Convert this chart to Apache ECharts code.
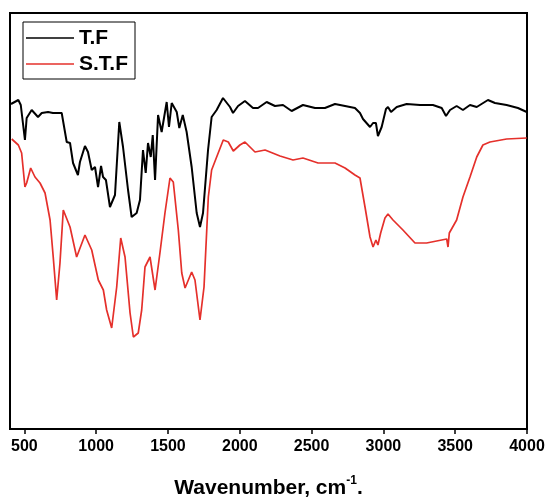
<!DOCTYPE html>
<html>
<head>
<meta charset="utf-8">
<script src="https://cdn.jsdelivr.net/npm/echarts@6/dist/echarts.min.js"></script>
<style>html,body{margin:0;padding:0;background:#fff;}#c{width:548px;height:497px;}</style>
</head>
<body>
<div id="c"></div>
<script>
// Wavenumber (cm^-1) and transmittance (arbitrary units)
const tfWavenumber = [407,458,475,504,516,551,595,621,665,699,760,795,818,839,873,887,922,943,969,992,1013,1034,1048,1068,1096,1131,1161,1187,1222,1247,1282,1305,1326,1345,1361,1380,1394,1410,1431,1456,1491,1507,1526,1561,1579,1603,1630,1665,1700,1723,1744,1779,1804,1839,1883,1932,1953,1988,2036,2092,2127,2187,2245,2301,2361,2440,2524,2593,2663,2733,2802,2837,2858,2907,2928,2948,2962,2988,3018,3032,3053,3093,3162,3255,3345,3406,3436,3464,3510,3554,3603,3650,3728,3777,3858,3937,3998];
const tfValue = [325,329,324,289,311,319,312,316,317,316,316,287,286,266,254,267,283,277,259,262,242,263,252,249,222,234,307,282,239,212,216,229,279,256,286,272,294,249,314,297,327,302,326,317,301,314,297,262,216,202,216,279,312,319,331,322,316,323,328,321,321,327,323,324,318,324,321,321,325,323,321,316,310,302,306,306,293,302,320,322,317,322,325,324,324,321,313,319,323,319,324,322,329,326,324,321,317];
const stfWavenumber = [412,458,481,504,516,544,574,609,644,679,701,725,748,771,818,864,922,969,1015,1050,1073,1108,1143,1171,1201,1236,1259,1293,1317,1340,1375,1410,1444,1479,1514,1537,1572,1596,1619,1665,1688,1723,1751,1781,1804,1839,1885,1920,1955,2001,2036,2106,2176,2280,2371,2440,2545,2663,2733,2802,2837,2872,2907,2928,2948,2962,2981,3011,3032,3067,3136,3220,3301,3371,3441,3450,3459,3510,3554,3603,3650,3693,3742,3858,3998];
const stfValue = [290,284,276,242,246,261,252,246,236,209,172,129,166,219,202,172,194,179,149,139,119,101,142,191,172,116,92,96,119,162,172,139,176,216,251,247,199,156,141,157,149,109,142,232,259,272,289,287,278,284,287,277,279,273,269,271,266,266,261,254,251,222,192,182,189,184,196,211,215,209,199,186,186,188,190,182,196,209,232,252,272,284,287,290,291];
const seriesNames = ['T.F', 'S.T.F'];
const xTickValues = [500,1000,1500,2000,2500,3000,3500,4000];

function pairs(xs, ys) { return xs.map((x, i) => [x, ys[i]]); }

const FONT = "'Liberation Sans', Arial, sans-serif";
const chart = echarts.init(document.getElementById('c'), null, {renderer: 'canvas'});
chart.setOption({
  animation: false,
  backgroundColor: '#fff',
  grid: {left: 10, right: 21, top: 13, bottom: 68, containLabel: false, outerBoundsMode: 'none',
         show: true, borderColor: '#000', borderWidth: 2, backgroundColor: 'transparent'},
  legend: {
    left: 23, top: 22, orient: 'vertical',
    data: seriesNames,
    itemWidth: 48, itemHeight: 14, itemGap: 4,
    padding: [5, 7, 4, 3],
    borderColor: '#000', borderWidth: 1,
    textStyle: {fontFamily: FONT, fontWeight: 'bold', fontSize: 21, color: '#000', lineHeight: 22},
    icon: 'path://M0,0 L48,0 L48,1.6 L0,1.6 Z'
  },
  xAxis: {
    type: 'value', min: 400, max: 4000,
    axisLine: {show: true, lineStyle: {color: '#000', width: 2}},
    axisTick: {show: true, length: 5, lineStyle: {color: '#000', width: 1.5}, customValues: xTickValues},
    axisLabel: {customValues: xTickValues, formatter: v => String(v), fontFamily: FONT, fontWeight: 'bold', fontSize: 16, color: '#000', margin: 10},
    splitLine: {show: false},
    name: '{a|Wavenumber, cm}{s|-1}{a|.}',
    nameLocation: 'middle', nameGap: 47,
    nameTextStyle: {
      rich: {
        a: {fontFamily: FONT, fontWeight: 'bold', fontSize: 21, color: '#000', lineHeight: 24},
        s: {fontFamily: FONT, fontWeight: 'bold', fontSize: 12, color: '#000', lineHeight: 24, padding: [0, 0, 14, 0]}
      }
    }
  },
  yAxis: {
    type: 'value', min: 0, max: 416,
    axisLine: {show: true, lineStyle: {color: '#000', width: 2}},
    axisTick: {show: false}, axisLabel: {show: false}, splitLine: {show: false}
  },
  series: [
    {name: seriesNames[0], type: 'line', data: pairs(tfWavenumber, tfValue), symbol: 'none',
     itemStyle: {color: '#000'}, lineStyle: {color: '#000', width: 2}},
    {name: seriesNames[1], type: 'line', data: pairs(stfWavenumber, stfValue), symbol: 'none',
     itemStyle: {color: '#e5302b'}, lineStyle: {color: '#e5302b', width: 1.7}}
  ]
});
</script>
</body>
</html>
